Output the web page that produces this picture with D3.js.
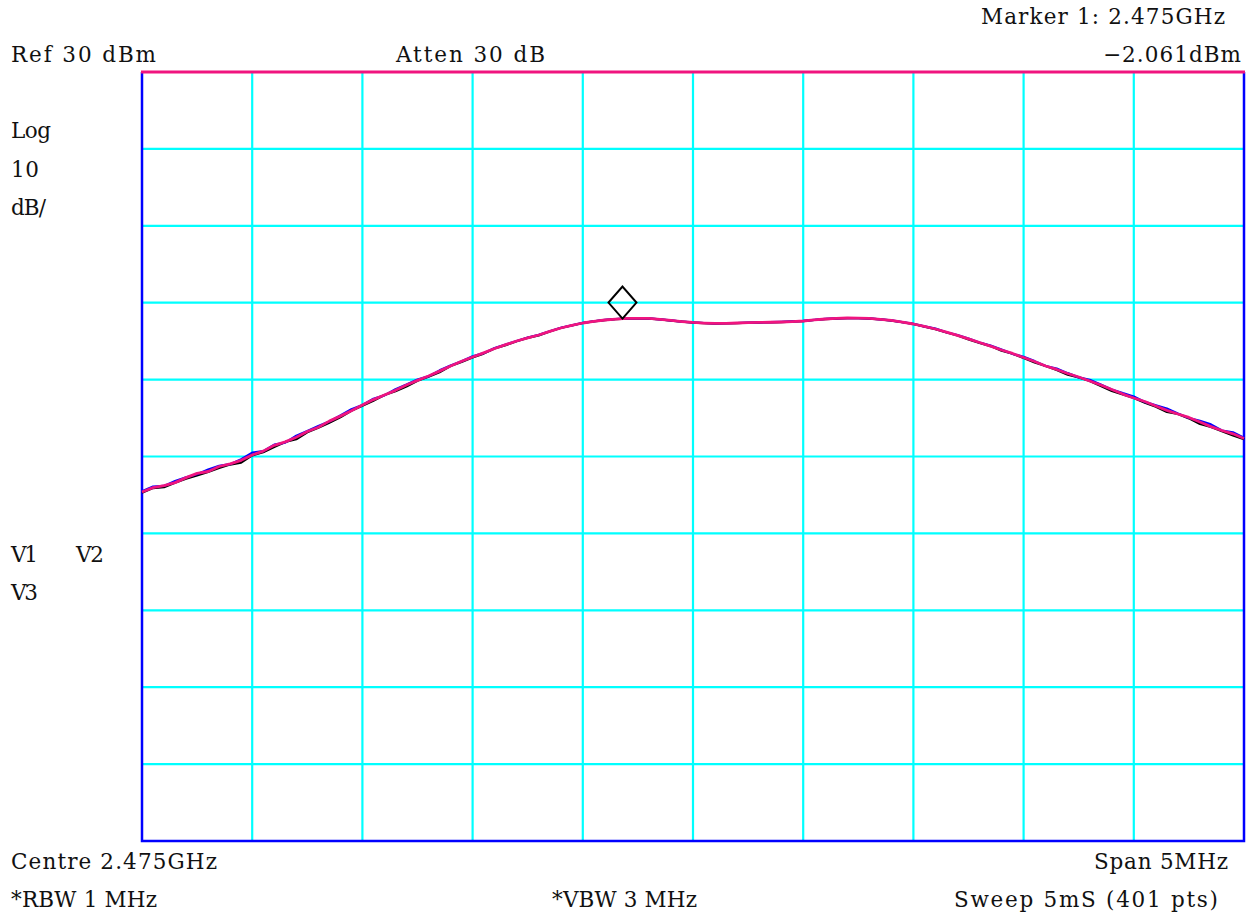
<!DOCTYPE html>
<html>
<head>
<meta charset="utf-8">
<script src="https://cdn.jsdelivr.net/npm/d3@7"></script>
<style>
  html, body { margin: 0; padding: 0; background: #ffffff; }
  svg { display: block; }
  text { font-family: "DejaVu Serif", "Liberation Serif", serif; fill: #111; }
</style>
</head>
<body>
<svg id="chart" width="1251" height="913"></svg>
<script>
// Analyzer settings
const centreMHz = 2475;
const spanMHz = 5;
const refLevel = 30;      // dBm, top of screen
const dbPerDiv = 10;
const points = 101;       // plotted sweep points

// Graticule divisions (frequency in MHz, level in dBm)
const freqDivs = [2472.5, 2473, 2473.5, 2474, 2474.5, 2475, 2475.5, 2476, 2476.5, 2477, 2477.5];
const levelDivs = [30, 20, 10, 0, -10, -20, -30, -40, -50, -60, -70];

// Trace V1 (black), dBm
const traceV1 = [
  -24.72, -24.10, -23.98, -23.40, -22.90, -22.45, -22.00, -21.50, -21.05, -20.80,
  -19.85, -19.45, -18.75, -18.10, -17.75, -16.85, -16.25, -15.60, -14.90, -14.05,
  -13.40, -12.75, -12.00, -11.50, -10.90, -10.15, -9.63, -9.05, -8.23, -7.70,
  -7.11, -6.62, -5.96, -5.52, -5.02, -4.58, -4.25, -3.74, -3.29, -2.97,
  -2.64, -2.43, -2.26, -2.14, -2.06, -2.04, -2.06, -2.18, -2.32, -2.46,
  -2.58, -2.66, -2.71, -2.69, -2.65, -2.61, -2.58, -2.55, -2.52, -2.46,
  -2.39, -2.25, -2.13, -2.06, -2.00, -2.02, -2.06, -2.18, -2.32, -2.54,
  -2.77, -3.12, -3.44, -3.88, -4.26, -4.78, -5.23, -5.64, -6.25, -6.64,
  -7.19, -7.76, -8.23, -8.76, -9.36, -9.71, -10.18, -10.82, -11.47, -11.93,
  -12.39, -13.00, -13.53, -14.20, -14.47, -15.04, -15.76, -16.17, -16.72, -17.25,
  -17.74
];

// Trace V2 (blue), dBm
const traceV2 = [
  -24.52, -23.90, -23.83, -23.20, -22.70, -22.30, -21.70, -21.20, -21.00, -20.35,
  -19.50, -19.30, -18.45, -18.20, -17.30, -16.70, -16.05, -15.45, -14.65, -13.85,
  -13.30, -12.50, -12.05, -11.25, -10.65, -10.00, -9.58, -8.80, -8.18, -7.62,
  -6.98, -6.56, -5.90, -5.43, -4.98, -4.53, -4.18, -3.72, -3.26, -2.94,
  -2.62, -2.41, -2.24, -2.12, -2.05, -2.02, -2.05, -2.16, -2.30, -2.45,
  -2.56, -2.64, -2.70, -2.67, -2.64, -2.59, -2.57, -2.53, -2.50, -2.44,
  -2.37, -2.24, -2.11, -2.04, -1.99, -2.00, -2.04, -2.16, -2.30, -2.52,
  -2.75, -3.08, -3.37, -3.85, -4.20, -4.66, -5.18, -5.56, -6.10, -6.65,
  -7.03, -7.60, -8.23, -8.56, -9.16, -9.71, -10.03, -10.64, -11.29, -11.76,
  -12.19, -12.90, -13.33, -13.75, -14.42, -15.00, -15.36, -15.82, -16.62, -16.85,
  -17.56
];

// Trace V3 (magenta), dBm
const traceV3 = [
  -24.62, -24.05, -23.78, -23.40, -22.75, -22.20, -21.95, -21.30, -20.95, -20.50,
  -19.80, -19.30, -18.55, -18.10, -17.50, -16.75, -16.20, -15.40, -14.75, -14.05,
  -13.30, -12.60, -12.00, -11.40, -10.70, -10.10, -9.53, -8.90, -8.23, -7.62,
  -7.06, -6.52, -5.96, -5.46, -4.98, -4.58, -4.20, -3.72, -3.29, -2.94,
  -2.64, -2.42, -2.25, -2.13, -2.05, -2.03, -2.05, -2.17, -2.31, -2.45,
  -2.57, -2.65, -2.70, -2.68, -2.64, -2.60, -2.57, -2.54, -2.51, -2.45,
  -2.38, -2.24, -2.12, -2.05, -1.99, -2.01, -2.05, -2.17, -2.31, -2.53,
  -2.77, -3.08, -3.42, -3.82, -4.26, -4.70, -5.18, -5.64, -6.15, -6.60,
  -7.13, -7.64, -8.23, -8.68, -9.21, -9.66, -10.18, -10.70, -11.29, -11.88,
  -12.39, -12.85, -13.43, -14.00, -14.47, -14.92, -15.51, -16.12, -16.62, -17.05,
  -17.66
];

// Marker 1
const markerFreqMHz = 2474.68;
const markerLevel = -2.061;

// ---- layout ----
const plot = { left: 142, right: 1244, top: 72, bottom: 841 };
const colors = {
  grid: "#00ffff",
  frame: "#0000ff",
  top: "#f0147f",
  v1: "#000000",
  v2: "#0000ff",
  v3: "#f0147f"
};

const svg = d3.select("#chart");

const startMHz = centreMHz - spanMHz / 2;
const stopMHz = centreMHz + spanMHz / 2;
const bottomLevel = refLevel - dbPerDiv * (levelDivs.length - 1);

const x = d3.scaleLinear().domain([startMHz, stopMHz]).range([plot.left, plot.right]);
const y = d3.scaleLinear().domain([bottomLevel, refLevel]).range([plot.bottom, plot.top]);

const freqs = d3.range(points).map(i => startMHz + i * spanMHz / (points - 1));

// graticule
const grid = svg.append("g").attr("stroke", colors.grid).attr("stroke-width", 2.2);
grid.selectAll("line.v").data(freqDivs.slice(1, -1)).join("line")
  .attr("class", "v")
  .attr("x1", d => x(d)).attr("x2", d => x(d))
  .attr("y1", plot.top).attr("y2", plot.bottom);
grid.selectAll("line.h").data(levelDivs.slice(1, -1)).join("line")
  .attr("class", "h")
  .attr("x1", plot.left).attr("x2", plot.right)
  .attr("y1", d => y(d)).attr("y2", d => y(d));

// frame
const frame = svg.append("g").attr("fill", "none");
frame.append("path")
  .attr("d", `M${x(startMHz)},${y(refLevel)} V${y(bottomLevel)} H${x(stopMHz)} V${y(refLevel)}`)
  .attr("stroke", colors.frame).attr("stroke-width", 2.5);
frame.append("line")
  .attr("x1", x(startMHz) - 1).attr("x2", x(stopMHz) + 1)
  .attr("y1", y(refLevel)).attr("y2", y(refLevel))
  .attr("stroke", colors.top).attr("stroke-width", 2.8);

// traces
const line = d3.line()
  .x((d, i) => x(freqs[i]))
  .y(d => y(d));

const traces = [
  { values: traceV1, color: colors.v1, width: 2.2 },
  { values: traceV2, color: colors.v2, width: 2.2 },
  { values: traceV3, color: colors.v3, width: 2.8 }
];
svg.append("g").selectAll("path").data(traces).join("path")
  .attr("d", d => line(d.values))
  .attr("fill", "none")
  .attr("stroke", d => d.color)
  .attr("stroke-width", d => d.width)
  .attr("stroke-linejoin", "round");

// marker diamond, lower vertex on the marker level
const mx = x(markerFreqMHz);
const my = y(markerLevel);
svg.append("path")
  .attr("d", `M${mx},${my} L${mx + 14},${my - 16} L${mx},${my - 32} L${mx - 14},${my - 16} Z`)
  .attr("fill", "none")
  .attr("stroke", "#000")
  .attr("stroke-width", 2);

// annotations
const fmtLevel = v => (v < 0 ? "\u2212" : "") + Math.abs(v).toFixed(3) + "dBm";
const labels = [
  { t: `Marker 1: ${(markerFreqMHz / 1000).toFixed(3)}GHz`, x: 981, w: 244, y: 24 },
  { t: `Ref ${refLevel} dBm`, x: 11, w: 145, y: 62 },
  { t: "Atten 30 dB", x: 396, w: 149, y: 62 },
  { t: fmtLevel(markerLevel), x: 1103, w: 138, y: 62 },
  { t: "Log", x: 11, w: 40, y: 138 },
  { t: `${dbPerDiv}`, x: 11, w: 28, y: 177 },
  { t: "dB/", x: 11, w: 35, y: 215 },
  { t: "V1", x: 11, w: 27, y: 562 },
  { t: "V2", x: 76, w: 28, y: 562 },
  { t: "V3", x: 11, w: 27, y: 600 },
  { t: `Centre ${(centreMHz / 1000).toFixed(3)}GHz`, x: 11, w: 206, y: 869 },
  { t: `Span ${spanMHz}MHz`, x: 1094, w: 134, y: 869 },
  { t: "*RBW 1 MHz", x: 11, w: 146, y: 907 },
  { t: "*VBW 3 MHz", x: 552, w: 145, y: 907 },
  { t: "Sweep 5mS (401 pts)", x: 954, w: 264, y: 907 }
];
svg.append("g").selectAll("text").data(labels).join("text")
  .attr("x", d => d.x)
  .attr("y", d => d.y)
  .attr("textLength", d => d.w)
  .attr("lengthAdjust", "spacing")
  .attr("font-size", 21.5)
  .text(d => d.t);
</script>
</body>
</html>
